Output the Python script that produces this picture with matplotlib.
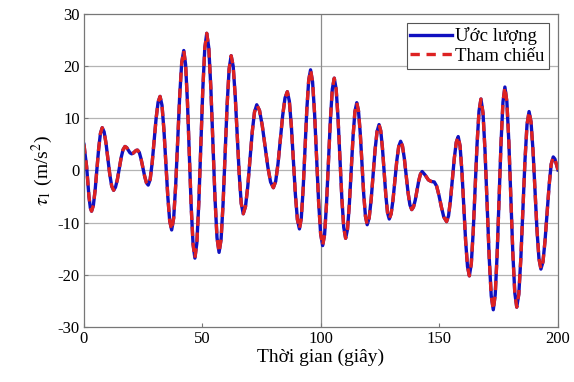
import matplotlib
matplotlib.use("Agg")
import matplotlib.pyplot as plt

plt.rcParams['font.family'] = ['Liberation Serif', 'DejaVu Serif']
plt.rcParams['mathtext.fontset'] = 'stix'
plt.rcParams['axes.unicode_minus'] = False

# thoi gian (s) va tau_1 (m/s^2) doc tu hinh
t = [0.0, 0.5, 1.1, 1.6, 2.1, 2.7, 3.2,
     3.95, 4.7, 5.45, 6.2, 6.95, 7.7,
     8.5, 9.3, 10.1, 10.9, 11.7, 12.5,
     13.3, 14.1, 14.9, 15.7, 16.5, 17.3,
     18.0, 18.7, 19.4, 20.1, 20.7, 21.4, 22.0, 22.6,
     23.35, 24.1, 24.85, 25.6, 26.35, 27.1,
     27.93, 28.77, 29.6, 30.43, 31.27, 32.1,
     32.92, 33.73, 34.55, 35.37, 36.18, 37.0,
     37.85, 38.7, 39.55, 40.4, 41.25, 42.1,
     42.88, 43.67, 44.45, 45.23, 46.02, 46.8,
     47.63, 48.47, 49.3, 50.13, 50.97, 51.8,
     52.67, 53.53, 54.4, 55.27, 56.13, 57.0,
     57.85, 58.7, 59.55, 60.4, 61.25, 62.1,
     62.95, 63.8, 64.65, 65.5, 66.35, 67.2,
     68.15, 69.1, 70.05, 71.0, 71.95, 72.9,
     74.07, 75.23, 76.4, 77.57, 78.73, 79.9,
     80.88, 81.87, 82.85, 83.83, 84.82, 85.8,
     86.65, 87.5, 88.35, 89.2, 90.05, 90.9,
     91.68, 92.47, 93.25, 94.03, 94.82, 95.6,
     96.45, 97.3, 98.15, 99.0, 99.85, 100.7,
     101.52, 102.33, 103.15, 103.97, 104.78, 105.6,
     106.4, 107.2, 108.0, 108.8, 109.6, 110.4,
     111.18, 111.97, 112.75, 113.53, 114.32, 115.1,
     115.83, 116.57, 117.3, 118.03, 118.77, 119.5,
     120.33, 121.17, 122.0, 122.83, 123.67, 124.5,
     125.22, 125.93, 126.65, 127.37, 128.08, 128.8,
     129.6, 130.4, 131.2, 132.0, 132.8, 133.6,
     134.38, 135.17, 135.95, 136.73, 137.52, 138.3,
     139.03, 139.77, 140.5, 141.23, 141.97, 142.7,
     144.0, 145.3, 146.5, 147.8, 148.8, 149.8, 150.8, 151.8, 153.0,
     153.82, 154.63, 155.45, 156.27, 157.08, 157.9,
     158.68, 159.47, 160.25, 161.03, 161.82, 162.6,
     163.42, 164.23, 165.05, 165.87, 166.68, 167.5,
     168.37, 169.23, 170.1, 170.97, 171.83, 172.7,
     173.52, 174.33, 175.15, 175.97, 176.78, 177.6,
     178.43, 179.27, 180.1, 180.93, 181.77, 182.6,
     183.47, 184.33, 185.2, 186.07, 186.93, 187.8,
     188.63, 189.47, 190.3, 191.13, 191.97, 192.8,
     193.67, 194.53, 195.4, 196.27, 197.13, 198.0,
     198.7, 199.4, 200.0]

tau_ref = [5.0, 3.0, 0.8, -2.2, -5.0, -7.2, -7.8,
           -6.7, -3.8, 0.2, 4.2, 7.1, 8.2,
           7.4, 5.2, 2.2, -0.8, -3.0, -3.8,
           -3.2, -1.7, 0.4, 2.5, 4.0, 4.6,
           4.4, 3.9, 3.4, 3.2, 3.3, 3.6, 3.85, 3.9,
           3.45, 2.2, 0.55, -1.1, -2.35, -2.8,
           -1.7, 1.45, 5.7, 9.95, 13.1, 14.2,
           12.5, 7.8, 1.4, -5.0, -9.7, -11.4,
           -9.1, -2.8, 5.8, 14.4, 20.7, 23.0,
           20.3, 13.0, 3.1, -6.9, -14.1, -16.8,
           -13.9, -6.0, 4.75, 15.5, 23.4, 26.3,
           23.5, 15.8, 5.3, -5.2, -12.9, -15.7,
           -13.2, -6.3, 3.15, 12.6, 19.5, 22.0,
           20.0, 14.4, 6.85, -0.7, -6.3, -8.3,
           -6.9, -3.1, 2.15, 7.4, 11.2, 12.6,
           11.5, 8.6, 4.65, 0.7, -2.2, -3.3,
           -2.1, 1.3, 5.9, 10.5, 13.9, 15.1,
           13.3, 8.5, 1.95, -4.6, -9.4, -11.2,
           -9.2, -3.6, 4.05, 11.7, 17.3, 19.3,
           17.0, 10.9, 2.45, -6.0, -12.1, -14.4,
           -12.3, -6.4, 1.65, 9.7, 15.6, 17.7,
           15.6, 10.0, 2.35, -5.3, -10.9, -13.0,
           -11.3, -6.5, 0.0, 6.5, 11.3, 13.0,
           11.4, 7.15, 1.3, -4.55, -8.8, -10.4,
           -9.1, -5.6, -0.8, 4.0, 7.5, 8.8,
           7.6, 4.3, -0.25, -4.8, -8.1, -9.3,
           -8.3, -5.6, -1.85, 1.9, 4.6, 5.6,
           4.7, 2.3, -0.95, -4.2, -6.6, -7.5,
           -7.0, -5.7, -3.85, -2.0, -0.7, -0.2,
           -0.9, -1.8, -2.1, -2.2, -3.0, -4.8, -7.0, -8.9, -9.8,
           -8.7, -5.7, -1.65, 2.4, 5.4, 6.5,
           4.7, -0.2, -6.85, -13.5, -18.4, -20.2,
           -17.9, -11.7, -3.25, 5.2, 11.4, 13.7,
           11.0, 3.6, -6.5, -16.6, -24.0, -26.7,
           -23.8, -16.0, -5.35, 5.3, 13.1, 16.0,
           13.2, 5.45, -5.1, -15.65, -23.4, -26.2,
           -23.7, -16.8, -7.45, 1.9, 8.8, 11.3,
           9.3, 3.75, -3.8, -11.35, -16.9, -18.9,
           -17.5, -13.5, -8.15, -2.8, 1.2, 2.6,
           2.2, 1.1, 0.1]

# uoc luong gan nhu trung voi tham chieu
tau_est = list(tau_ref)

xticks = [0, 50, 100, 150, 200]
yticks = [-30, -20, -10, 0, 10, 20, 30]

fig = plt.figure(figsize=(5.74, 3.82), dpi=100)
ax = fig.add_axes([0.1463, 0.144, 0.8258, 0.8194])

for y in yticks[1:-1]:
    ax.axhline(y, color='#b4b4b4', lw=0.9, zorder=0)
ax.axvline(100, color='#8c8c8c', lw=0.9, zorder=0)

ax.plot(t, tau_est, color='#1010c0', lw=2.4, label='Ước lượng')
ax.plot(t, tau_ref, color='#dd2222', lw=2.4, ls=(0, (2.8, 2.0)), label='Tham chiếu')

ax.set_xlim(0, 200)
ax.set_ylim(-30, 30)
ax.set_xticks(xticks)
ax.set_yticks(yticks)
ax.tick_params(labelsize=12, direction='in', length=3, color='#777777', pad=3)
for s in ax.spines.values():
    s.set_color('#777777')
    s.set_linewidth(0.9)

ax.set_xlabel('Thời gian (giây)', fontsize=14, labelpad=1)
ax.set_ylabel(r'$\tau_1$ (m/s$^2$)', fontsize=14, labelpad=2)

leg = ax.legend(loc='upper right', fontsize=13.5, handlelength=2.2, handletextpad=0.2,
                borderpad=0.2, labelspacing=0.15, borderaxespad=0.5, fancybox=False,
                framealpha=1, edgecolor='#555555')
leg.get_frame().set_linewidth(0.8)

fig.savefig('out.png', dpi=100)
